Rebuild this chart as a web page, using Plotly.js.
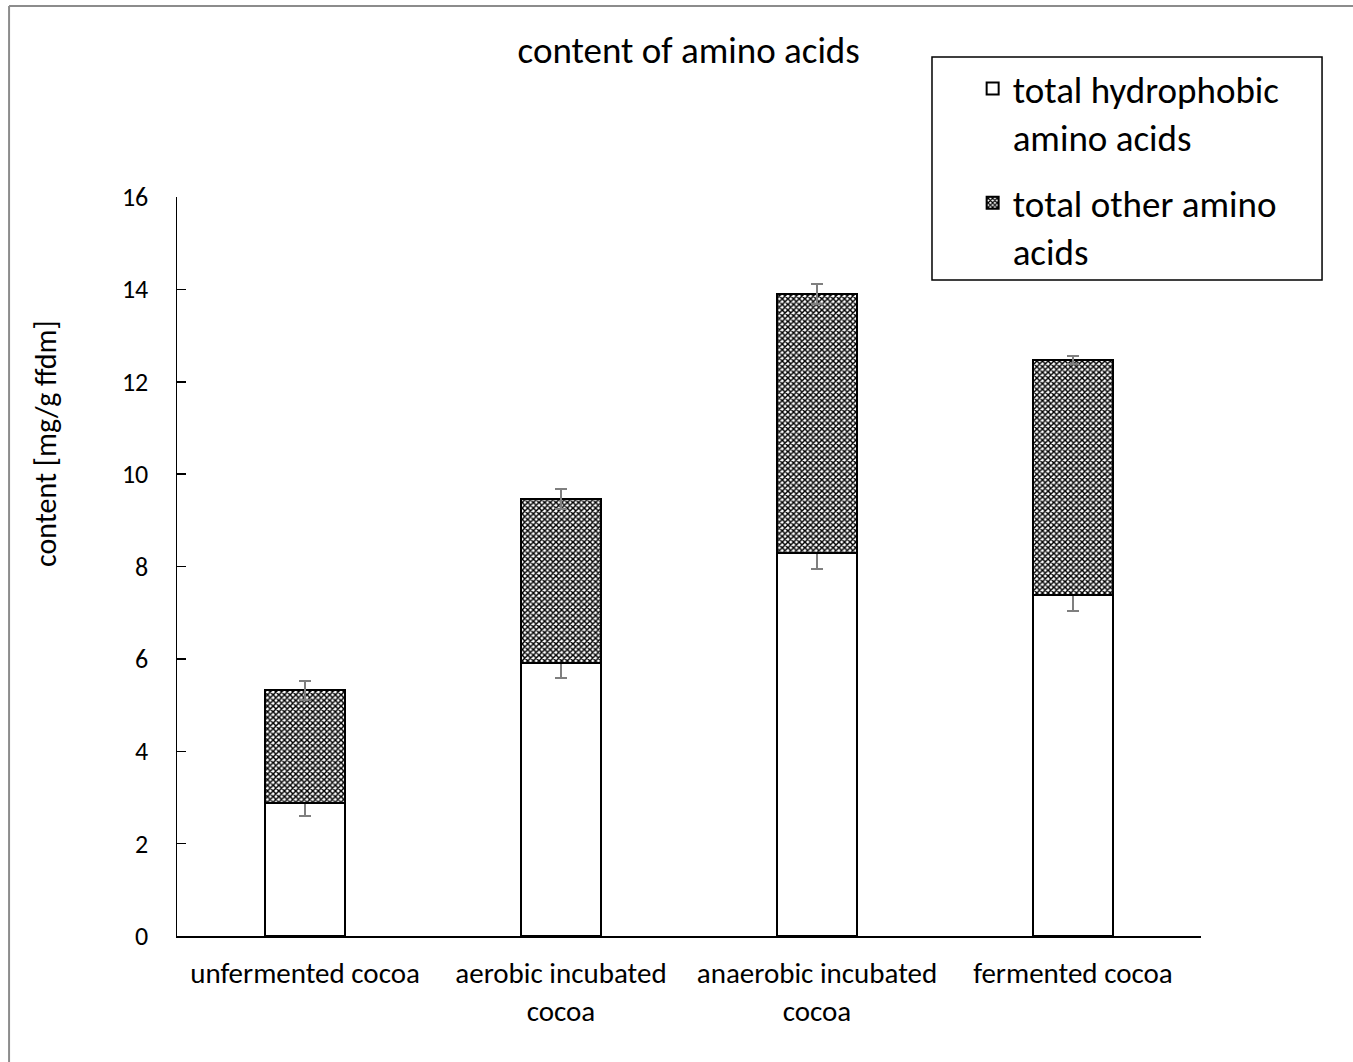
<!DOCTYPE html>
<html>
<head>
<meta charset="utf-8">
<script src="https://cdn.plot.ly/plotly-3.0.1.min.js"></script>
<style>html,body{margin:0;padding:0;background:#fff;}#chart{width:1353px;height:1062px;}</style>
</head>
<body>
<div id="chart"></div>
<script>
const categories = ["unfermented cocoa", "aerobic incubated cocoa", "anaerobic incubated cocoa", "fermented cocoa"];
const tickLabels = ["unfermented cocoa", "aerobic incubated<br>cocoa", "anaerobic incubated<br>cocoa", "fermented cocoa"];
const hydrophobic = [2.88, 5.91, 8.29, 7.38];
const hydrophobicErr = [0.28, 0.33, 0.35, 0.35];
const otherAA = [2.44, 3.55, 5.61, 5.09];
const otherErr = [0.20, 0.22, 0.22, 0.09];
const yTicks = [0, 2, 4, 6, 8, 10, 12, 14, 16];

const FONT = "Carlito, Lato, 'Open Sans', sans-serif";

const traces = [
  {
    type: "bar", name: "total hydrophobic<br>amino acids", x: categories, y: hydrophobic,
    legendgroup: "a",
    marker: {color: "#ffffff", line: {color: "#000000", width: 2}},
    error_y: {type: "data", array: hydrophobicErr, visible: true, color: "#7f7f7f", thickness: 2, width: 6}
  },
  {
    type: "bar", name: "total other amino<br>acids", x: categories, y: otherAA,
    legendgroup: "b",
    marker: {color: "#ffffff", line: {color: "#000000", width: 2},
      pattern: {shape: "x", fgcolor: "#000000", bgcolor: "#ffffff", size: 4, solidity: 0.6}},
    error_y: {type: "data", array: otherErr, visible: true, color: "#7f7f7f", thickness: 2, width: 6}
  }
];

const annotations = [
  {text: "content [mg/g ffdm]", xref: "paper", yref: "paper", x: -0.129, y: 0.667,
   textangle: -90, showarrow: false, xanchor: "center", yanchor: "middle",
   font: {family: FONT, size: 30, color: "#000"}}
];

const layout = {
  width: 1353, height: 1062,
  paper_bgcolor: "#ffffff", plot_bgcolor: "#ffffff",
  margin: {l: 177, r: 152, t: 197, b: 126},
  barmode: "stack", bargap: 0.6875,
  title: {text: "content of amino acids", x: 0.509, xanchor: "center", y: 0.953, yanchor: "middle",
          font: {family: FONT, size: 37, color: "#000"}},
  xaxis: {
    type: "category", tickvals: categories, ticktext: tickLabels,
    showline: true, linecolor: "#000", linewidth: 1.5, ticks: "", showgrid: false, zeroline: false,
    tickfont: {family: FONT, size: 29, color: "#000"}, ticklabelstandoff: 11
  },
  yaxis: {
    range: [0, 16], tickvals: yTicks, ticktext: yTicks.map(String),
    showline: true, linecolor: "#000", linewidth: 1.5, ticks: "inside", ticklen: 9, tickwidth: 1.5, tickcolor: "#000",
    showgrid: false, zeroline: false,
    tickfont: {family: FONT, size: 26, color: "#000"}, ticklabelstandoff: 22
  },
  showlegend: true,
  legend: {
    x: 0.777, y: 1.188, xanchor: "left", yanchor: "top", traceorder: "grouped", valign: "top",
    bgcolor: "rgba(0,0,0,0)", borderwidth: 0, tracegroupgap: 15,
    font: {family: FONT, size: 37, color: "#000"}
  },
  shapes: [
    {type: "rect", xref: "paper", yref: "paper", x0: 0.7373, x1: 1.1182, y0: 0.8877, y1: 1.1894,
     line: {color: "#000", width: 1.5}, fillcolor: "rgba(0,0,0,0)", layer: "below"},
    {type: "line", xref: "paper", yref: "paper", x0: -0.164, x1: -0.164, y0: -0.25, y1: 1.2585,
     line: {color: "#8c8c8c", width: 2}},
    {type: "line", xref: "paper", yref: "paper", x0: -0.164, x1: 1.25, y0: 1.2585, y1: 1.2585,
     line: {color: "#8c8c8c", width: 2}}
  ],
  annotations: annotations
};

Plotly.newPlot("chart", traces, layout, {displayModeBar: false, staticPlot: true});
</script>
</body>
</html>
